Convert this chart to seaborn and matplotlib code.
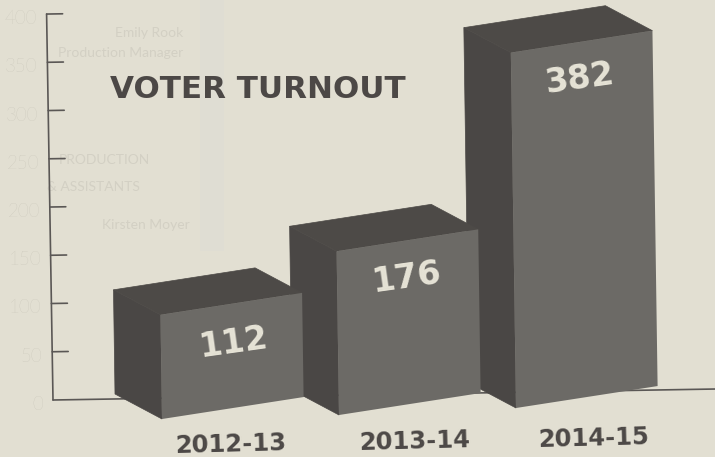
import matplotlib
matplotlib.use('Agg')
import matplotlib.pyplot as plt
import seaborn as sns
import pandas as pd
from matplotlib.patches import Polygon
from matplotlib.transforms import Affine2D, IdentityTransform

# values
years = ['2012-13', '2013-14', '2014-15']
turnout = [112, 176, 382]
axis_ticks = [0, 50, 100, 150, 200, 250, 300, 350, 400]

# text from the other side of the page showing through the scan
ghost_lines = ['Emily Rook', 'Production Manager', 'PRODUCTION', '& ASSISTANTS', 'Kirsten Moyer']

PAPER = '#e2dfd2'
FRONT = '#6c6a66'
SIDE = '#4a4745'
TOP = '#4d4a47'
INK = '#4c4846'
CREAM = '#e6e3d6'
GHOST = '#d3d0c4'

sns.set_theme(style='white')
plt.rcParams['font.family'] = ['DejaVu Sans']

fig = plt.figure(figsize=(7.15, 4.57), dpi=100, facecolor=PAPER)
ax = fig.add_axes([0, 0, 1, 1], facecolor=PAPER)

df = pd.DataFrame({'year': years, 'turnout': turnout})
sns.barplot(data=df, x='year', y='turnout', color=FRONT, width=0.8, saturation=1, ax=ax)

# 177 px per category, 0.965 px per vote, first bar centred at x=232.8, zero at y=400 from top
ax.set_xlim(-232.8 / 177, (715 - 232.8) / 177)
ax.set_ylim(-57 / 0.965, 400 / 0.965)
ax.axis('off')

# the printed bars are skewed, each one sits on its own baseline
slope = 0.155
lean = -0.014
height_scale = 0.964
depth = (-47, 25)
baseline_drop = [19, 15, 8]
value_pos = [(233, 343), (406, 278), (580, 79)]
year_pos = [(231, 445), (414, 442), (593, 439)]

bars = list(ax.patches)
for i, bar in enumerate(bars):
    x0, y0 = ax.transData.transform((bar.get_x(), 0))
    skew = Affine2D.from_values(1, slope, lean, height_scale, 0, 0)
    tf = ax.transData + Affine2D().translate(-x0, -y0) + skew + Affine2D().translate(x0, y0 - baseline_drop[i])
    bar.set_transform(tf)
    bar.set_zorder(10 - 2 * i)
    bar.set_linewidth(0)

    x, w, h = bar.get_x(), bar.get_width(), bar.get_height()
    tl, tr, bl = tf.transform([(x, h), (x + w, h), (x, 0)])
    back = lambda p: (p[0] + depth[0], p[1] + depth[1])
    ax.add_patch(Polygon([tl, bl, back(bl), back(tl)], closed=True, fc=SIDE, ec=SIDE, lw=0.5,
                         transform=IdentityTransform(), zorder=9 - 2 * i))
    ax.add_patch(Polygon([tl, tr, back(tr), back(tl)], closed=True, fc=TOP, ec=TOP, lw=0.5,
                         transform=IdentityTransform(), zorder=9 - 2 * i))

    # value on the front face
    ax.text(value_pos[i][0], 457 - value_pos[i][1], str(turnout[i]), transform=IdentityTransform(),
            color=CREAM, fontsize=24, fontweight='bold', rotation=8, ha='center', va='center',
            rotation_mode='anchor', zorder=12)

    # year under the bar
    ax.text(year_pos[i][0], 457 - year_pos[i][1], years[i], transform=IdentityTransform(), color=INK,
            fontsize=17.5, fontweight='bold', rotation=1.5, ha='center', va='center',
            rotation_mode='anchor', zorder=12)

# hand-placed looking axis, tilted about one degree around the origin
ax_x = (53 - 232.8) / 177
tick_len = 16 / 177
ox, oy = ax.transData.transform((ax_x, 0))
tilt = Affine2D().rotate_deg_around(ox, oy, 0.95)
axis_tf = ax.transData + tilt
line_col = '#5a5755'
ax.plot([ax_x, ax_x], [0, 400], color=line_col, lw=1.2, transform=axis_tf, zorder=2)
ax.plot([ax_x, 2.8], [0, 0], color=line_col, lw=1.2, transform=axis_tf, zorder=2)
for t in axis_ticks[1:]:
    ax.plot([ax_x, ax_x + tick_len], [t, t], color=line_col, lw=1.2, transform=axis_tf, zorder=2)
for t in axis_ticks:
    ax.text(ax_x - 0.055, t - 5, str(t), color='#c1beb2', fontsize=13.5, fontweight='light',
            family=['Lato', 'DejaVu Sans'], ha='right', va='center', transform=axis_tf, zorder=2)

# faint show-through from the scan
ax.axvspan((200 - 232.8) / 177, (224 - 232.8) / 177, ymin=0.45, color='#dfddd3', lw=0, zorder=0)
for line, (gx, gy) in zip(ghost_lines, [(183, 33), (183, 53), (150, 160), (140, 187), (190, 225)]):
    ax.text(gx, 457 - gy, line, transform=IdentityTransform(), color=GHOST, fontsize=10,
            family=['Lato', 'DejaVu Sans'], ha='right', va='center', zorder=1)

ax.text(110, 457 - 90, 'VOTER TURNOUT', transform=IdentityTransform(), color=INK,
        fontsize=22.3, fontweight='bold', ha='left', va='center', zorder=12)

fig.savefig('out.png', dpi=100, facecolor=PAPER)
